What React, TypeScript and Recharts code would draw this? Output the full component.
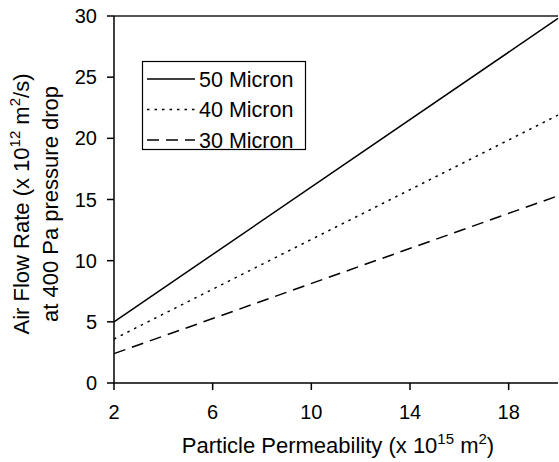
import { Line, LineChart, ReferenceLine, XAxis, YAxis } from "recharts";

const permeability = [2, 20];
const micron50 = [5.0, 29.8];
const micron40 = [3.6, 21.9];
const micron30 = [2.4, 15.3];
const xTicks = [2, 6, 10, 14, 18];
const yTicks = [0, 5, 10, 15, 20, 25, 30];

const series = [
  { key: "m50", name: "50 Micron", dash: undefined as string | undefined },
  { key: "m40", name: "40 Micron", dash: "2.5 5" },
  { key: "m30", name: "30 Micron", dash: "12 7" },
];

const data = permeability.map((p, i) => ({
  x: p,
  m50: micron50[i],
  m40: micron40[i],
  m30: micron30[i],
}));

const FONT = "'Liberation Sans', Arial, Helvetica, sans-serif";

// legend box drawn over the plot, like the original figure
const LegendBox = () => (
  <svg width={166} height={100} style={{ display: "block", overflow: "visible" }}>
    <rect x={0.5} y={0.5} width={163} height={88} fill="#fff" stroke="#000" strokeWidth={1.2} />
    {series.map((s, i) => {
      const cy = 18 + i * 30.5;
      return (
        <g key={s.key}>
          <line x1={5} x2={53} y1={cy} y2={cy} stroke="#000" strokeWidth={1.5} strokeDasharray={s.dash} />
          <text x={57} y={cy} dy="0.36em" fontSize={21.5} fontFamily={FONT} fill="#000">
            {s.name}
          </text>
        </g>
      );
    })}
  </svg>
);

const XLabel = () => (
  <text x={338} y={453} textAnchor="middle" fontSize={22} fontFamily={FONT} fill="#000">
    Particle Permeability (x 10
    <tspan dy={-9} fontSize={15}>15</tspan>
    <tspan dy={9}> m</tspan>
    <tspan dy={-9} fontSize={15}>2</tspan>
    <tspan dy={9}>)</tspan>
  </text>
);

const YLabel = () => (
  <g fontSize={22} fontFamily={FONT} fill="#000">
    <text x={29} y={204} transform="rotate(-90 29 204)" textAnchor="middle">
      Air Flow Rate (x 10
      <tspan dy={-9} fontSize={15}>12</tspan>
      <tspan dy={9}> m</tspan>
      <tspan dy={-9} fontSize={15}>2</tspan>
      <tspan dy={9}>/s)</tspan>
    </text>
    <text x={58} y={204} transform="rotate(-90 58 204)" textAnchor="middle">
      at 400 Pa pressure drop
    </text>
  </g>
);

export default function App() {
  return (
    <div style={{ position: "absolute", left: 0, top: 0, width: 559, height: 462, background: "#fff" }}>
      <LineChart
        width={559}
        height={462}
        data={data}
        margin={{ top: 16, right: 1, bottom: 0, left: 0 }}
        style={{ fontFamily: FONT }}
      >
        <XAxis
          dataKey="x"
          type="number"
          domain={[2, 20]}
          ticks={xTicks}
          height={79}
          tickSize={7}
          tickMargin={15}
          stroke="#000"
          strokeWidth={1.5}
          tick={{ fill: "#000", fontSize: 20 }}
          label={{ content: () => <XLabel /> }}
        />
        <YAxis
          type="number"
          domain={[0, 30]}
          ticks={yTicks}
          width={114}
          tickSize={7}
          tickMargin={10}
          stroke="#000"
          strokeWidth={1.5}
          tick={{ fill: "#000", fontSize: 20 }}
          label={{ content: () => <YLabel /> }}
        />
        <ReferenceLine y={30} stroke="#555" strokeWidth={2} />
        {series.map((s) => (
          <Line
            key={s.key}
            dataKey={s.key}
            name={s.name}
            type="linear"
            stroke="#000"
            strokeWidth={1.5}
            strokeDasharray={s.dash}
            dot={false}
            isAnimationActive={false}
          />
        ))}
      </LineChart>
      <div style={{ position: "absolute", left: 142, top: 61 }}>
        <LegendBox />
      </div>
    </div>
  );
}
